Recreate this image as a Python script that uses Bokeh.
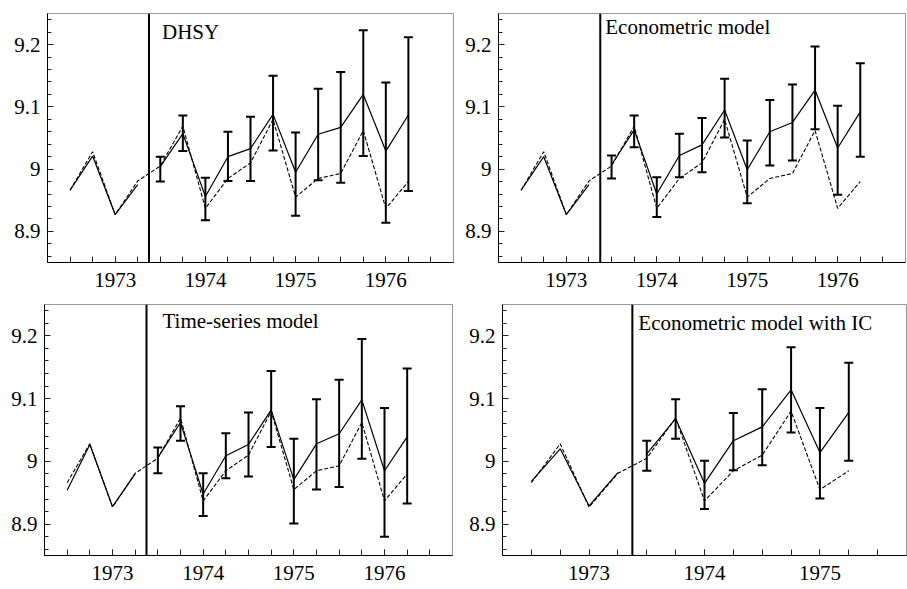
from bokeh.plotting import figure
from bokeh.layouts import row, column
from bokeh.models import FixedTicker, Span, Label, Whisker, TeeHead, ColumnDataSource, Range1d
from bokeh.embed import file_html
from bokeh.resources import INLINE

# ---------------- data ----------------
QUARTERS = [1972.5, 1972.75, 1973.0, 1973.25, 1973.5, 1973.75, 1974.0, 1974.25,
            1974.5, 1974.75, 1975.0, 1975.25, 1975.5, 1975.75, 1976.0, 1976.25]
ACTUAL = [8.966, 9.028, 8.927, 8.981, 9.005, 9.069, 8.937, 8.985,
          9.010, 9.080, 8.955, 8.985, 8.993, 9.062, 8.937, 8.980]
BREAK = 1973.375

PRE_X = [1972.5, 1972.75, 1973.0, 1973.25]
FC_X = [1973.5, 1973.75, 1974.0, 1974.25, 1974.5, 1974.75, 1975.0, 1975.25,
        1975.5, 1975.75, 1976.0, 1976.25]

# DHSY
DHSY_PRE = [8.966, 9.021, 8.927, 8.975]
DHSY_FC = [9.004, 9.057, 8.956, 9.020, 9.033, 9.088, 8.995, 9.056, 9.067, 9.120, 9.029, 9.087]
DHSY_HI = [9.020, 9.086, 8.986, 9.060, 9.084, 9.150, 9.059, 9.129, 9.156, 9.223, 9.139, 9.212]
DHSY_LO = [8.980, 9.029, 8.918, 8.981, 8.981, 9.030, 8.925, 8.982, 8.978, 9.021, 8.914, 8.965]

# Econometric model
ECON_PRE = [8.966, 9.020, 8.927, 8.975]
ECON_FC = [9.007, 9.063, 8.960, 9.022, 9.039, 9.095, 8.999, 9.060, 9.075, 9.127, 9.034, 9.092]
ECON_HI = [9.022, 9.086, 8.987, 9.057, 9.082, 9.145, 9.046, 9.111, 9.136, 9.197, 9.102, 9.170]
ECON_LO = [8.985, 9.035, 8.923, 8.987, 8.995, 9.051, 8.945, 9.006, 9.014, 9.064, 8.959, 9.020]

# Time-series model
TS_PRE = [8.954, 9.027, 8.928, 8.980]
TS_FC = [9.006, 9.062, 8.948, 9.009, 9.027, 9.082, 8.971, 9.028, 9.044, 9.098, 8.985, 9.039]
TS_HI = [9.022, 9.088, 8.981, 9.045, 9.078, 9.144, 9.036, 9.099, 9.130, 9.195, 9.085, 9.148]
TS_LO = [8.981, 9.033, 8.913, 8.973, 8.976, 9.023, 8.901, 8.955, 8.959, 9.004, 8.880, 8.933]

# Econometric model with IC (shorter horizon)
IC_N_ACT = 12
IC_PRE = [8.968, 9.020, 8.929, 8.982]
IC_FC = [9.012, 9.068, 8.965, 9.033, 9.055, 9.114, 9.014, 9.078]
IC_HI = [9.033, 9.099, 9.001, 9.077, 9.115, 9.182, 9.085, 9.157]
IC_LO = [8.985, 9.036, 8.924, 8.986, 8.994, 9.046, 8.941, 9.001]

Y_TICKS = [8.9, 9.0, 9.1, 9.2]
Y_TICK_LABELS = ["8.9", "9", "9.1", "9.2"]
Y_MINOR = [8.86, 8.88, 8.92, 8.94, 8.96, 8.98, 9.02, 9.04, 9.06, 9.08,
           9.12, 9.14, 9.16, 9.18, 9.22, 9.24]

FONT = "Liberation Serif"


def make_panel(title, pre, fc, hi, lo, n_act, years, x_end, width, height,
               borders, title_dx, title_y, standoff):
    bl, br, bt, bb = borders
    p = figure(width=width, height=height, output_backend="svg", toolbar_location=None,
               x_range=Range1d(1972.25, x_end), y_range=Range1d(8.85, 9.25),
               min_border_left=bl, min_border_right=br, min_border_top=bt, min_border_bottom=bb)
    p.grid.visible = False
    p.outline_line_color = "#999999"
    p.outline_line_width = 1
    p.background_fill_color = "white"
    p.border_fill_color = "white"

    # x axis
    q = QUARTERS[:]
    minor_q = [v for v in q + [q[-1] + 0.25] if v <= x_end - 0.2]
    p.xaxis.ticker = FixedTicker(ticks=years, minor_ticks=minor_q)
    p.xaxis.major_label_overrides = {y: str(y) for y in years}
    # y axis
    p.yaxis.ticker = FixedTicker(ticks=Y_TICKS, minor_ticks=Y_MINOR)
    p.yaxis.major_label_overrides = dict(zip(Y_TICKS, Y_TICK_LABELS))

    for ax in (p.xaxis[0], p.yaxis[0]):
        ax.axis_line_color = "black"
        ax.axis_line_width = 1
        ax.major_tick_line_color = "#222222"
        ax.minor_tick_line_color = "#222222"
        ax.major_tick_out = 0
        ax.minor_tick_out = 0
        ax.major_label_text_font = FONT
        ax.major_label_text_font_size = "21px"
        ax.major_label_text_color = "black"
    p.xaxis.major_tick_in = 6
    p.xaxis.minor_tick_in = 6
    p.yaxis.major_tick_in = 6
    p.yaxis.minor_tick_in = 4
    p.xaxis.major_label_standoff = standoff
    p.yaxis.major_label_standoff = 7

    # actual (dashed)
    p.line(QUARTERS[:n_act], ACTUAL[:n_act], line_color="black", line_width=1.1, line_dash="4 2")
    # fitted before break
    p.line(PRE_X, pre, line_color="black", line_width=1.2)
    # forecasts
    fx = FC_X[:len(fc)]
    p.line(fx, fc, line_color="black", line_width=1.2)
    src = ColumnDataSource(dict(x=fx, hi=hi, lo=lo))
    p.add_layout(Whisker(source=src, base="x", upper="hi", lower="lo",
                         line_color="black", line_width=2,
                         upper_head=TeeHead(size=9, line_width=2, line_color="black"),
                         lower_head=TeeHead(size=9, line_width=2, line_color="black")))
    p.add_layout(Span(location=BREAK, dimension="height", line_color="black", line_width=2))
    p.add_layout(Label(x=BREAK, y=title_y, x_offset=title_dx, text=title,
                       text_font=FONT, text_font_size="21px", text_color="black",
                       text_baseline="alphabetic", text_align="left"))
    return p


YEARS_FULL = [1973, 1974, 1975, 1976]
YEARS_IC = [1973, 1974, 1975]

p1 = make_panel("DHSY", DHSY_PRE, DHSY_FC, DHSY_HI, DHSY_LO, 16, YEARS_FULL, 1976.75,
                462, 296, (47, 9, 13, 33), 13, 9.2195, 10)
p2 = make_panel("Econometric model", ECON_PRE, ECON_FC, ECON_HI, ECON_LO, 16, YEARS_FULL, 1976.75,
                445, 296, (36, 2, 12, 34), 5, 9.2285, 10)
p3 = make_panel("Time-series model", TS_PRE, TS_FC, TS_HI, TS_LO, 16, YEARS_FULL, 1976.75,
                462, 293, (44, 10, 8, 34), 16, 9.2237, 10)
p4 = make_panel("Econometric model with IC", IC_PRE, IC_FC, IC_HI, IC_LO, IC_N_ACT, YEARS_IC, 1975.75,
                445, 293, (40, 1, 8, 34), 6, 9.221, 10)

layout = column(row(p1, p2), row(p3, p4))
open("out.html", "w").write(file_html(layout, INLINE))
